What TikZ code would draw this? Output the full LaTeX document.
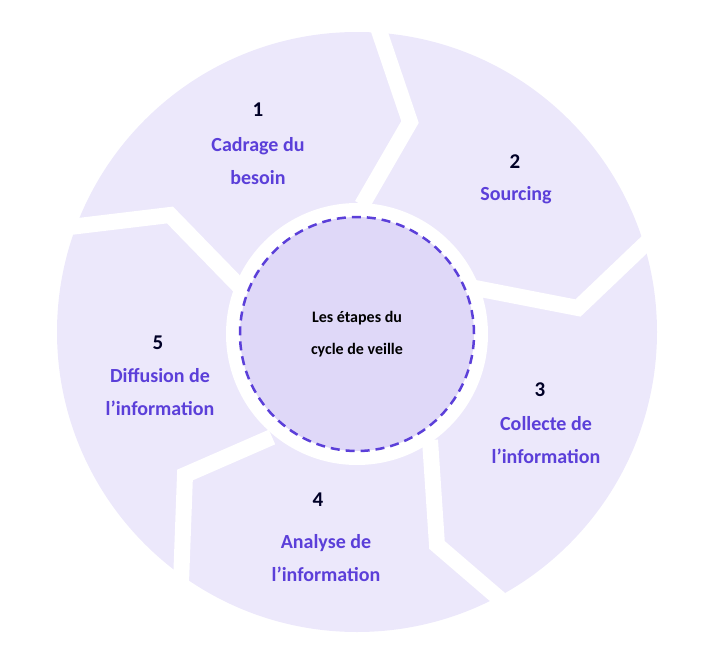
\documentclass[tikz,border=0pt]{standalone}
\usepackage{fontspec}
\setmainfont{Carlito}
\definecolor{seg}{HTML}{ECE8FB}
\definecolor{core}{HTML}{DFD8F8}
\definecolor{purp}{HTML}{5B3FD9}
\begin{document}
\begin{tikzpicture}[x=1pt,y=-1pt,
  gap/.style={white,line width=16pt,line join=miter},
  num/.style={font=\fontsize{21}{24}\selectfont\bfseries,text=black!85!blue},
  lab/.style={font=\fontsize{20}{33}\selectfont\bfseries,text=purp,align=center},
  ctr/.style={font=\fontsize{16}{32}\selectfont\bfseries,align=center}]
\useasboundingbox (0,0) rectangle (715,669);
\fill[seg] (357,332) circle (300);
\draw[gap] (372,10) -- (410,122) -- (362,205);
\draw[gap] (665,225) -- (578,308) -- (470,287);
\draw[gap] (430,440) -- (437,545) -- (530,625);
\draw[gap] (272,437) -- (185,475) -- (180,610);
\draw[gap] (240,287) -- (170,215) -- (45,230);
\fill[white] (357,334) circle (131);
\node[circle,minimum size=234,fill=core,draw=purp,line width=2.5pt,dash pattern=on 9pt off 6pt] (c) at (357,334) {};
\node[ctr] at (c) {Les étapes du\\cycle de veille};
\node[num] (n1) at (258,110) {1};
\node[lab] (l1) at (258,161) {Cadrage du\\besoin};
\node[num] (n2) at (515,162) {2};
\node[lab] (l2) at (516,195) {Sourcing};
\node[num] (n3) at (540,390) {3};
\node[lab] (l3) at (546,440) {Collecte de\\l'information};
\node[num] (n4) at (318,500) {4};
\node[lab] (l4) at (326,558) {Analyse de\\l'information};
\node[num] (n5) at (158,343) {5};
\node[lab] (l5) at (160,392) {Diffusion de\\l'information};
\end{tikzpicture}
\end{document}
